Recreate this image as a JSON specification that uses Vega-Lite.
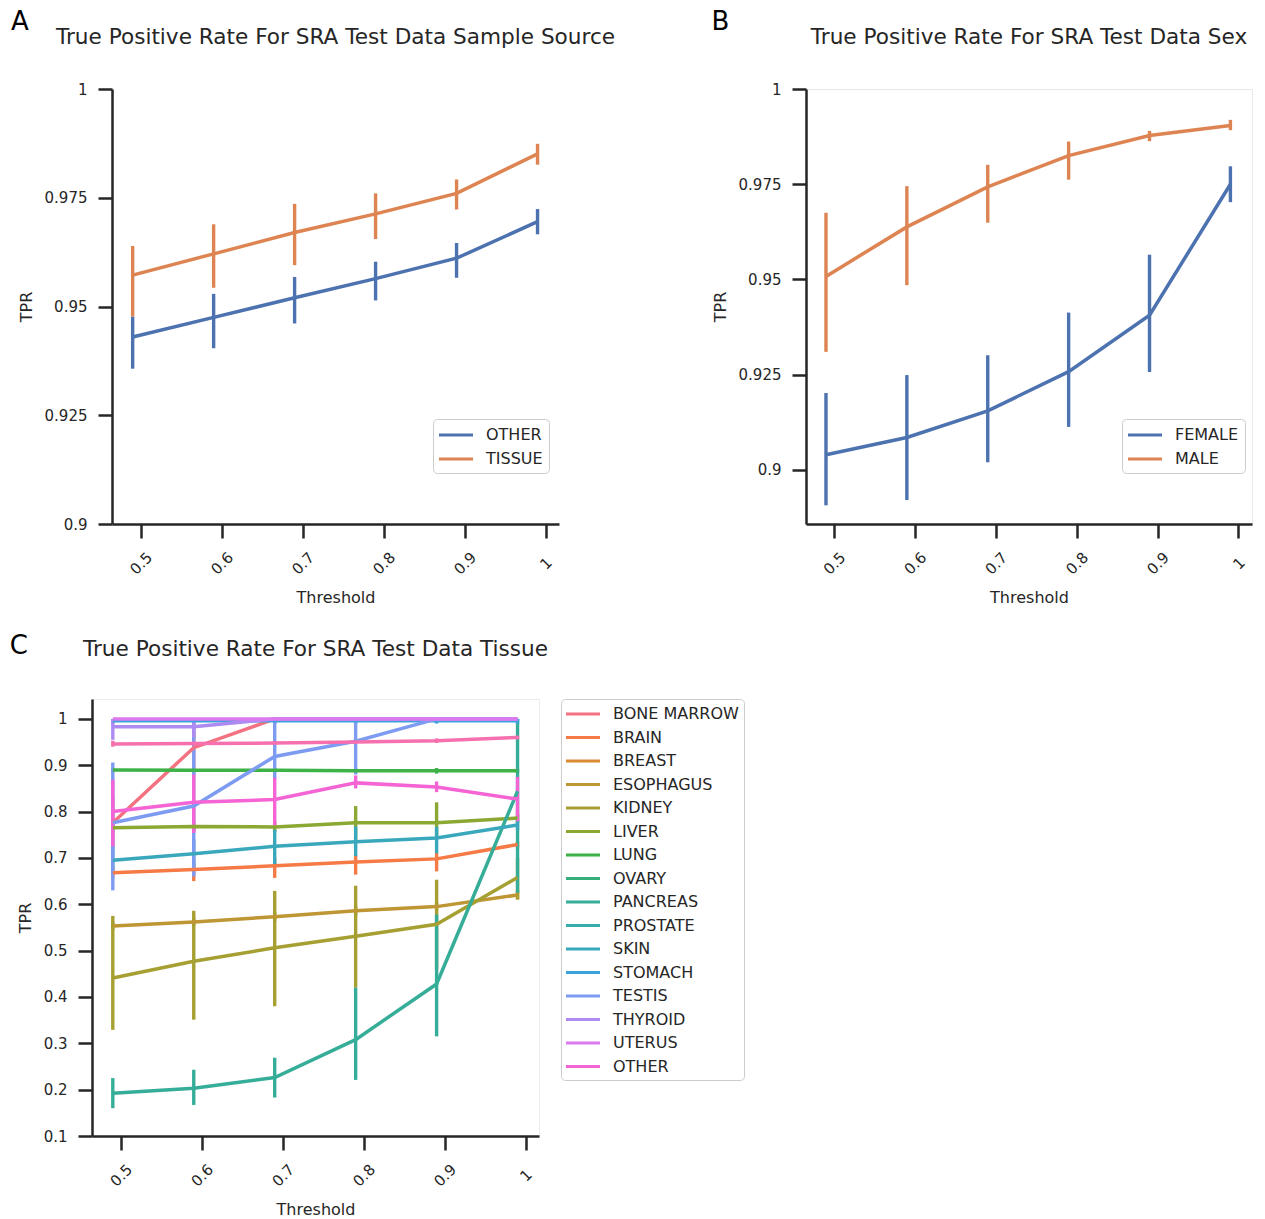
{
  "$schema": "https://vega.github.io/schema/vega-lite/v6.json",
  "background": "white",
  "padding": {"left": 9, "top": 8, "right": 0, "bottom": 0},
  "datasets": {
    "source": [
      {"group": "OTHER", "threshold": 0.49, "tpr": 0.9430, "lo": 0.9357, "hi": 0.9477},
      {"group": "OTHER", "threshold": 0.59, "tpr": 0.9475, "lo": 0.9404, "hi": 0.9529},
      {"group": "OTHER", "threshold": 0.69, "tpr": 0.9520, "lo": 0.9461, "hi": 0.9568},
      {"group": "OTHER", "threshold": 0.79, "tpr": 0.9564, "lo": 0.9514, "hi": 0.9603},
      {"group": "OTHER", "threshold": 0.89, "tpr": 0.9611, "lo": 0.9566, "hi": 0.9646},
      {"group": "OTHER", "threshold": 0.99, "tpr": 0.9695, "lo": 0.9666, "hi": 0.9724},
      {"group": "TISSUE", "threshold": 0.49, "tpr": 0.9572, "lo": 0.9477, "hi": 0.9639},
      {"group": "TISSUE", "threshold": 0.59, "tpr": 0.9621, "lo": 0.9543, "hi": 0.9689},
      {"group": "TISSUE", "threshold": 0.69, "tpr": 0.9670, "lo": 0.9595, "hi": 0.9736},
      {"group": "TISSUE", "threshold": 0.79, "tpr": 0.9713, "lo": 0.9655, "hi": 0.9760},
      {"group": "TISSUE", "threshold": 0.89, "tpr": 0.9760, "lo": 0.9723, "hi": 0.9792},
      {"group": "TISSUE", "threshold": 0.99, "tpr": 0.9851, "lo": 0.9826, "hi": 0.9874}
    ],
    "sex": [
      {"group": "FEMALE", "threshold": 0.49, "tpr": 0.9040, "lo": 0.8907, "hi": 0.9202},
      {"group": "FEMALE", "threshold": 0.59, "tpr": 0.9085, "lo": 0.8921, "hi": 0.9249},
      {"group": "FEMALE", "threshold": 0.69, "tpr": 0.9155, "lo": 0.9020, "hi": 0.9301},
      {"group": "FEMALE", "threshold": 0.79, "tpr": 0.9258, "lo": 0.9113, "hi": 0.9413},
      {"group": "FEMALE", "threshold": 0.89, "tpr": 0.9406, "lo": 0.9257, "hi": 0.9565},
      {"group": "FEMALE", "threshold": 0.99, "tpr": 0.9750, "lo": 0.9703, "hi": 0.9797},
      {"group": "MALE", "threshold": 0.49, "tpr": 0.9508, "lo": 0.9310, "hi": 0.9675},
      {"group": "MALE", "threshold": 0.59, "tpr": 0.9638, "lo": 0.9485, "hi": 0.9745},
      {"group": "MALE", "threshold": 0.69, "tpr": 0.9743, "lo": 0.9649, "hi": 0.9801},
      {"group": "MALE", "threshold": 0.79, "tpr": 0.9825, "lo": 0.9762, "hi": 0.9862},
      {"group": "MALE", "threshold": 0.89, "tpr": 0.9878, "lo": 0.9863, "hi": 0.9890},
      {"group": "MALE", "threshold": 0.99, "tpr": 0.9904, "lo": 0.9892, "hi": 0.9919}
    ],
    "tissue": [
      {"group": "BONE MARROW", "threshold": 0.49, "tpr": 0.776, "lo": 0.72, "hi": 0.83},
      {"group": "BONE MARROW", "threshold": 0.59, "tpr": 0.938, "lo": 0.88, "hi": 0.99},
      {"group": "BONE MARROW", "threshold": 0.69, "tpr": 1.0, "lo": 0.99, "hi": 1.0},
      {"group": "BONE MARROW", "threshold": 0.79, "tpr": 1.0, "lo": 1.0, "hi": 1.0},
      {"group": "BONE MARROW", "threshold": 0.89, "tpr": 1.0, "lo": 1.0, "hi": 1.0},
      {"group": "BONE MARROW", "threshold": 0.99, "tpr": 1.0, "lo": 1.0, "hi": 1.0},
      {"group": "BRAIN", "threshold": 0.49, "tpr": 0.668, "lo": 0.655, "hi": 0.681},
      {"group": "BRAIN", "threshold": 0.59, "tpr": 0.675, "lo": 0.650, "hi": 0.690},
      {"group": "BRAIN", "threshold": 0.69, "tpr": 0.683, "lo": 0.657, "hi": 0.700},
      {"group": "BRAIN", "threshold": 0.79, "tpr": 0.691, "lo": 0.664, "hi": 0.706},
      {"group": "BRAIN", "threshold": 0.89, "tpr": 0.698, "lo": 0.671, "hi": 0.711},
      {"group": "BRAIN", "threshold": 0.99, "tpr": 0.729, "lo": 0.720, "hi": 0.736},
      {"group": "ESOPHAGUS", "threshold": 0.49, "tpr": 0.553, "lo": 0.545, "hi": 0.562},
      {"group": "ESOPHAGUS", "threshold": 0.59, "tpr": 0.562, "lo": 0.553, "hi": 0.571},
      {"group": "ESOPHAGUS", "threshold": 0.69, "tpr": 0.573, "lo": 0.563, "hi": 0.583},
      {"group": "ESOPHAGUS", "threshold": 0.79, "tpr": 0.586, "lo": 0.576, "hi": 0.596},
      {"group": "ESOPHAGUS", "threshold": 0.89, "tpr": 0.595, "lo": 0.585, "hi": 0.605},
      {"group": "ESOPHAGUS", "threshold": 0.99, "tpr": 0.620, "lo": 0.610, "hi": 0.630},
      {"group": "KIDNEY", "threshold": 0.49, "tpr": 0.441, "lo": 0.329, "hi": 0.575},
      {"group": "KIDNEY", "threshold": 0.59, "tpr": 0.477, "lo": 0.351, "hi": 0.586},
      {"group": "KIDNEY", "threshold": 0.69, "tpr": 0.506, "lo": 0.380, "hi": 0.629},
      {"group": "KIDNEY", "threshold": 0.79, "tpr": 0.531, "lo": 0.420, "hi": 0.640},
      {"group": "KIDNEY", "threshold": 0.89, "tpr": 0.557, "lo": 0.460, "hi": 0.653},
      {"group": "KIDNEY", "threshold": 0.99, "tpr": 0.658, "lo": 0.611, "hi": 0.700},
      {"group": "LIVER", "threshold": 0.49, "tpr": 0.765, "lo": 0.755, "hi": 0.775},
      {"group": "LIVER", "threshold": 0.59, "tpr": 0.768, "lo": 0.758, "hi": 0.778},
      {"group": "LIVER", "threshold": 0.69, "tpr": 0.767, "lo": 0.755, "hi": 0.779},
      {"group": "LIVER", "threshold": 0.79, "tpr": 0.776, "lo": 0.740, "hi": 0.812},
      {"group": "LIVER", "threshold": 0.89, "tpr": 0.776, "lo": 0.740, "hi": 0.820},
      {"group": "LIVER", "threshold": 0.99, "tpr": 0.786, "lo": 0.776, "hi": 0.796},
      {"group": "LUNG", "threshold": 0.49, "tpr": 0.890, "lo": 0.885, "hi": 0.894},
      {"group": "LUNG", "threshold": 0.59, "tpr": 0.889, "lo": 0.884, "hi": 0.894},
      {"group": "LUNG", "threshold": 0.69, "tpr": 0.889, "lo": 0.884, "hi": 0.894},
      {"group": "LUNG", "threshold": 0.79, "tpr": 0.888, "lo": 0.883, "hi": 0.893},
      {"group": "LUNG", "threshold": 0.89, "tpr": 0.888, "lo": 0.882, "hi": 0.894},
      {"group": "LUNG", "threshold": 0.99, "tpr": 0.888, "lo": 0.884, "hi": 0.892},
      {"group": "PANCREAS", "threshold": 0.49, "tpr": 0.192, "lo": 0.160, "hi": 0.225},
      {"group": "PANCREAS", "threshold": 0.59, "tpr": 0.203, "lo": 0.167, "hi": 0.243},
      {"group": "PANCREAS", "threshold": 0.69, "tpr": 0.226, "lo": 0.183, "hi": 0.269},
      {"group": "PANCREAS", "threshold": 0.79, "tpr": 0.308, "lo": 0.221, "hi": 0.420},
      {"group": "PANCREAS", "threshold": 0.89, "tpr": 0.428, "lo": 0.315, "hi": 0.578},
      {"group": "PANCREAS", "threshold": 0.99, "tpr": 0.844, "lo": 0.625, "hi": 1.0},
      {"group": "SKIN", "threshold": 0.49, "tpr": 0.695, "lo": 0.670, "hi": 0.725},
      {"group": "SKIN", "threshold": 0.59, "tpr": 0.709, "lo": 0.680, "hi": 0.740},
      {"group": "SKIN", "threshold": 0.69, "tpr": 0.725, "lo": 0.686, "hi": 0.761},
      {"group": "SKIN", "threshold": 0.79, "tpr": 0.735, "lo": 0.704, "hi": 0.768},
      {"group": "SKIN", "threshold": 0.89, "tpr": 0.743, "lo": 0.710, "hi": 0.767},
      {"group": "SKIN", "threshold": 0.99, "tpr": 0.771, "lo": 0.760, "hi": 0.782},
      {"group": "STOMACH", "threshold": 0.49, "tpr": 0.996, "lo": 0.990, "hi": 1.0},
      {"group": "STOMACH", "threshold": 0.59, "tpr": 0.996, "lo": 0.990, "hi": 1.0},
      {"group": "STOMACH", "threshold": 0.69, "tpr": 0.996, "lo": 0.990, "hi": 1.0},
      {"group": "STOMACH", "threshold": 0.79, "tpr": 0.996, "lo": 0.990, "hi": 1.0},
      {"group": "STOMACH", "threshold": 0.89, "tpr": 0.996, "lo": 0.990, "hi": 1.0},
      {"group": "STOMACH", "threshold": 0.99, "tpr": 0.996, "lo": 0.990, "hi": 1.0},
      {"group": "TESTIS", "threshold": 0.49, "tpr": 0.776, "lo": 0.630, "hi": 0.906},
      {"group": "TESTIS", "threshold": 0.59, "tpr": 0.812, "lo": 0.660, "hi": 0.990},
      {"group": "TESTIS", "threshold": 0.69, "tpr": 0.919, "lo": 0.870, "hi": 1.0},
      {"group": "TESTIS", "threshold": 0.79, "tpr": 0.952, "lo": 0.880, "hi": 1.0},
      {"group": "TESTIS", "threshold": 0.89, "tpr": 1.0, "lo": 1.0, "hi": 1.0},
      {"group": "TESTIS", "threshold": 0.99, "tpr": 1.0, "lo": 1.0, "hi": 1.0},
      {"group": "THYROID", "threshold": 0.49, "tpr": 0.983, "lo": 0.955, "hi": 1.0},
      {"group": "THYROID", "threshold": 0.59, "tpr": 0.983, "lo": 0.960, "hi": 1.0},
      {"group": "THYROID", "threshold": 0.69, "tpr": 1.0, "lo": 1.0, "hi": 1.0},
      {"group": "THYROID", "threshold": 0.79, "tpr": 1.0, "lo": 1.0, "hi": 1.0},
      {"group": "THYROID", "threshold": 0.89, "tpr": 1.0, "lo": 1.0, "hi": 1.0},
      {"group": "THYROID", "threshold": 0.99, "tpr": 1.0, "lo": 1.0, "hi": 1.0},
      {"group": "UTERUS", "threshold": 0.49, "tpr": 1.0, "lo": 1.0, "hi": 1.0},
      {"group": "UTERUS", "threshold": 0.59, "tpr": 1.0, "lo": 1.0, "hi": 1.0},
      {"group": "UTERUS", "threshold": 0.69, "tpr": 1.0, "lo": 1.0, "hi": 1.0},
      {"group": "UTERUS", "threshold": 0.79, "tpr": 1.0, "lo": 1.0, "hi": 1.0},
      {"group": "UTERUS", "threshold": 0.89, "tpr": 1.0, "lo": 1.0, "hi": 1.0},
      {"group": "UTERUS", "threshold": 0.99, "tpr": 1.0, "lo": 1.0, "hi": 1.0},
      {"group": "OTHER", "threshold": 0.49, "tpr": 0.800, "lo": 0.725, "hi": 0.869},
      {"group": "OTHER", "threshold": 0.59, "tpr": 0.820, "lo": 0.754, "hi": 0.880},
      {"group": "OTHER", "threshold": 0.69, "tpr": 0.826, "lo": 0.768, "hi": 0.873},
      {"group": "OTHER", "threshold": 0.79, "tpr": 0.862, "lo": 0.850, "hi": 0.878},
      {"group": "OTHER", "threshold": 0.89, "tpr": 0.853, "lo": 0.842, "hi": 0.865},
      {"group": "OTHER", "threshold": 0.99, "tpr": 0.827, "lo": 0.779, "hi": 0.875},
      {"group": "UNKNOWN", "threshold": 0.49, "tpr": 0.946, "lo": 0.940, "hi": 0.953},
      {"group": "UNKNOWN", "threshold": 0.59, "tpr": 0.947, "lo": 0.943, "hi": 0.951},
      {"group": "UNKNOWN", "threshold": 0.69, "tpr": 0.948, "lo": 0.944, "hi": 0.952},
      {"group": "UNKNOWN", "threshold": 0.79, "tpr": 0.950, "lo": 0.946, "hi": 0.954},
      {"group": "UNKNOWN", "threshold": 0.89, "tpr": 0.953, "lo": 0.948, "hi": 0.958},
      {"group": "UNKNOWN", "threshold": 0.99, "tpr": 0.960, "lo": 0.956, "hi": 0.964}
    ]
  },
  "concat": [
    {
      "hconcat": [
        {
          "title": {"text": "A", "anchor": "start", "fontSize": 26, "color": "black", "offset": 0, "dx": -7, "dy": 8},
          "vconcat": [
            {
              "width": 467,
              "height": 435,
              "title": {"text": "True Positive Rate For SRA Test Data Sample Source", "offset": 33, "dx": 10},
              "data": {"name": "source"},
              "encoding": {
                "x": {
                  "field": "threshold", "type": "quantitative", "title": "Threshold",
                  "scale": {"domain": [0.4645, 1.0165], "range": [20, 467], "nice": false, "zero": false},
                  "axis": {"values": [0.5, 0.6, 0.7, 0.8, 0.9, 1], "format": ".3~g"}
                },
                "color": {
                  "field": "group", "type": "nominal",
                  "scale": {"domain": ["OTHER", "TISSUE"], "range": ["#4c72b0", "#dd8452"]},
                  "legend": {"title": null, "orient": "none", "legendX": 341, "legendY": 330}
                }
              },
              "layer": [
                {
                  "mark": {"type": "rule", "strokeWidth": 3.4},
                  "encoding": {
                    "y": {
                      "field": "lo", "type": "quantitative", "title": "TPR",
                      "scale": {"domain": [0.9, 1.0], "nice": false, "zero": false},
                      "axis": {"values": [0.9, 0.925, 0.95, 0.975, 1], "format": ".4~g", "offset": -20}
                    },
                    "y2": {"field": "hi"}
                  }
                },
                {
                  "mark": {"type": "line", "strokeWidth": 3.5},
                  "encoding": {
                    "y": {"field": "tpr", "type": "quantitative", "title": "TPR"}
                  }
                }
              ]
            }
          ]
        },
        {
          "title": {"text": "B", "anchor": "start", "fontSize": 26, "color": "black", "offset": 0, "dx": 0, "dy": 8},
          "vconcat": [
            {
              "width": 446,
              "height": 435,
              "title": {"text": "True Positive Rate For SRA Test Data Sex", "offset": 33},
              "view": {"stroke": "#e8e8e8", "strokeWidth": 1},
              "data": {"name": "sex"},
              "encoding": {
                "x": {
                  "field": "threshold", "type": "quantitative", "title": "Threshold",
                  "scale": {"domain": [0.4653, 1.0167], "nice": false, "zero": false},
                  "axis": {"values": [0.5, 0.6, 0.7, 0.8, 0.9, 1], "format": ".3~g"}
                },
                "color": {
                  "field": "group", "type": "nominal",
                  "scale": {"domain": ["FEMALE", "MALE"], "range": ["#4c72b0", "#dd8452"]},
                  "legend": {"title": null, "orient": "none", "legendX": 316, "legendY": 330}
                }
              },
              "layer": [
                {
                  "mark": {"type": "rule", "strokeWidth": 3.4},
                  "encoding": {
                    "y": {
                      "field": "lo", "type": "quantitative", "title": "TPR",
                      "scale": {"domain": [0.8858, 1.0], "nice": false, "zero": false},
                      "axis": {"values": [0.9, 0.925, 0.95, 0.975, 1], "format": ".4~g"}
                    },
                    "y2": {"field": "hi"}
                  }
                },
                {
                  "mark": {"type": "line", "strokeWidth": 3.5},
                  "encoding": {
                    "y": {"field": "tpr", "type": "quantitative", "title": "TPR"}
                  }
                }
              ]
            }
          ]
        }
      ],
      "spacing": 95,
      "resolve": {"scale": {"color": "independent"}, "legend": {"color": "independent"}}
    },
    {
      "title": {"text": "C", "anchor": "start", "fontSize": 26, "color": "black", "offset": 0, "dx": -7, "dy": 20},
      "vconcat": [
        {
          "width": 447,
          "height": 437,
          "title": {"text": "True Positive Rate For SRA Test Data Tissue", "offset": 38},
          "view": {"stroke": "#ececec", "strokeWidth": 1},
          "data": {"name": "tissue"},
          "encoding": {
            "x": {
              "field": "threshold", "type": "quantitative", "title": "Threshold",
              "scale": {"domain": [0.4643, 1.0165], "nice": false, "zero": false},
              "axis": {"values": [0.5, 0.6, 0.7, 0.8, 0.9, 1], "format": ".3~g"}
            },
            "color": {
              "field": "group", "type": "nominal",
              "scale": {
                "domain": ["BONE MARROW", "BRAIN", "BREAST", "ESOPHAGUS", "KIDNEY", "LIVER", "LUNG", "OVARY", "PANCREAS", "PROSTATE", "SKIN", "STOMACH", "TESTIS", "THYROID", "UTERUS", "OTHER", "UNKNOWN"],
                "range": ["#f37282", "#f57a45", "#db8a33", "#be9633", "#a69f32", "#8ba833", "#3cb247", "#35af7c", "#36ad98", "#37acac", "#39a8bd", "#3ba3dc", "#7e9bf2", "#ae8bf2", "#dc79ee", "#f464d4", "#f66fae"]
              },
              "legend": {
                "title": null, "orient": "right", "offset": 12,
                "values": ["BONE MARROW", "BRAIN", "BREAST", "ESOPHAGUS", "KIDNEY", "LIVER", "LUNG", "OVARY", "PANCREAS", "PROSTATE", "SKIN", "STOMACH", "TESTIS", "THYROID", "UTERUS", "OTHER"],
                "padding": 5, "rowPadding": 5.5
              }
            }
          },
          "layer": [
            {
              "mark": {"type": "rule", "strokeWidth": 3.4},
              "encoding": {
                "y": {
                  "field": "lo", "type": "quantitative", "title": "TPR",
                  "scale": {"domain": [0.1, 1.043], "nice": false, "zero": false},
                  "axis": {"values": [0.1, 0.2, 0.3, 0.4, 0.5, 0.6, 0.7, 0.8, 0.9, 1], "format": ".3~g"}
                },
                "y2": {"field": "hi"}
              }
            },
            {
              "mark": {"type": "line", "strokeWidth": 3.5},
              "encoding": {
                "y": {"field": "tpr", "type": "quantitative", "title": "TPR"}
              }
            }
          ]
        }
      ]
    }
  ],
  "columns": 1,
  "spacing": 26,
  "align": "none",
  "resolve": {"scale": {"color": "independent"}, "legend": {"color": "independent"}},
  "config": {
    "font": "DejaVu Sans",
    "view": {"stroke": null},
    "title": {"fontSize": 21.6, "fontWeight": "normal", "color": "#262626", "font": "DejaVu Sans"},
    "axis": {
      "grid": false,
      "domainColor": "#262626",
      "domainWidth": 2.5,
      "tickColor": "#262626",
      "tickWidth": 2.5,
      "tickSize": 14,
      "labelColor": "#262626",
      "labelFont": "DejaVu Sans",
      "labelFontSize": 15,
      "titleColor": "#262626",
      "titleFont": "DejaVu Sans",
      "titleFontSize": 16,
      "titleFontWeight": "normal"
    },
    "axisX": {"labelAngle": -45, "labelAlign": "center", "labelBaseline": "middle", "labelPadding": 25, "titlePadding": 12},
    "axisY": {"labelPadding": 11, "titlePadding": 10},
    "legend": {
      "symbolType": "M-2,0H2",
      "symbolSize": 289,
      "symbolStrokeWidth": 3,
      "symbolOffset": 7,
      "labelFont": "DejaVu Sans",
      "labelFontSize": 16,
      "labelColor": "#262626",
      "labelOffset": 20,
      "strokeColor": "#cccccc",
      "fillColor": "white",
      "cornerRadius": 4,
      "padding": 6,
      "rowPadding": 6
    }
  }
}
